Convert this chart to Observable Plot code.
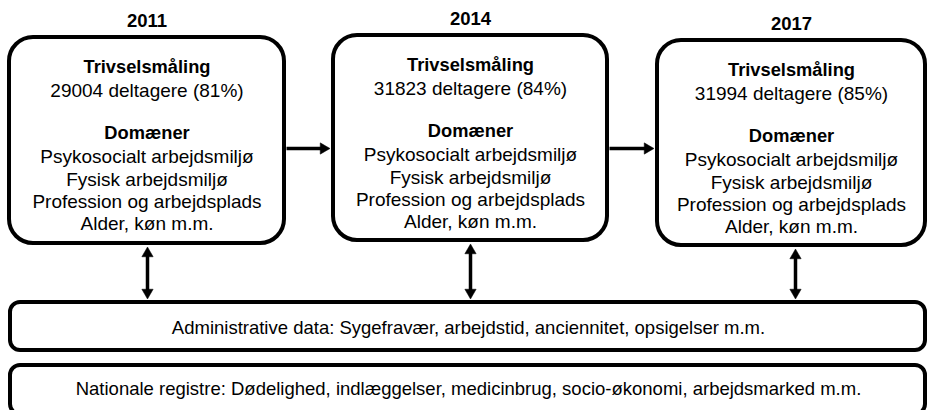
<!DOCTYPE html>
<html>
<head>
<meta charset="utf-8">
<script src="https://cdn.jsdelivr.net/npm/d3@7"></script>
<script src="https://cdn.jsdelivr.net/npm/@observablehq/plot@0.6"></script>
<style>
  html, body { margin: 0; padding: 0; background: #fff; }
  #chart svg { display: block; }
  #chart svg text { font-family: "Liberation Sans", Arimo, Arial, sans-serif; }
</style>
</head>
<body>
<div id="chart"></div>
<script>
// ---- data ----
const years = ["2011", "2014", "2017"];
const participants = [29004, 31823, 31994];
const responseRates = [81, 84, 85];
const surveyTitle = "Trivselsmåling";
const domainTitle = "Domæner";
const domains = ["Psykosocialt arbejdsmiljø", "Fysisk arbejdsmiljø", "Profession og arbejdsplads", "Alder, køn m.m."];
const registers = [
  "Administrative data: Sygefravær, arbejdstid, anciennitet, opsigelser m.m.",
  "Nationale registre: Dødelighed, indlæggelser, medicinbrug, socio-økonomi, arbejdsmarked m.m."
];

// ---- layout (pixel space) ----
const W = 927, H = 410;
const boxX1 = [9, 333, 657], boxX2 = [284, 607, 925];
const boxY1 = [37, 35, 40], boxY2 = [243, 240, 245];
const textBase = [67, 65, 70];
const lineOffsets = [0, 23, 66, 89, 112, 134, 156];
const regY1 = [302, 365], regY2 = [350, 414], regX1 = 10, regX2 = 925;
const regTextY = [328, 389];

const boxes = years.map((y, i) => ({x1: boxX1[i], x2: boxX2[i], y1: boxY1[i], y2: boxY2[i], cx: (boxX1[i] + boxX2[i]) / 2}));
const regBoxes = registers.map((t, i) => ({x1: regX1, x2: regX2, y1: regY1[i], y2: regY2[i], ty: regTextY[i], label: t}));

const yearLabels = years.map((y, i) => ({x: boxes[i].cx, y: boxY1[i] - 16, label: y}));
const boldLines = [], plainLines = [];
years.forEach((y, i) => {
  const cx = boxes[i].cx, b = textBase[i];
  boldLines.push({x: cx, y: b + lineOffsets[0], label: surveyTitle});
  plainLines.push({x: cx, y: b + lineOffsets[1], label: `${participants[i]} deltagere (${responseRates[i]}%)`});
  boldLines.push({x: cx, y: b + lineOffsets[2], label: domainTitle});
  domains.forEach((d, j) => plainLines.push({x: cx, y: b + lineOffsets[3 + j], label: d}));
});

// arrows
const head = 8; // distance tip -> triangle centre
const hArrowY = 148;
const hArrows = [0, 1].map(i => ({x1: boxX2[i] + 2, x2: boxX1[i + 1] - 2, y: hArrowY}));
const vArrowX = [147, 470, 795];
const vArrows = vArrowX.map((x, i) => ({x, y1: boxY2[i] + 2, y2: regY1[0] - 2}));

const shafts = [
  ...hArrows.map(a => ({x1: a.x1, y1: a.y, x2: a.x2 - head, y2: a.y})),
  ...vArrows.map(a => ({x1: a.x, y1: a.y1 + head, x2: a.x, y2: a.y2 - head}))
];
const heads = [
  ...hArrows.map(a => ({x: a.x2 - head, y: a.y, rot: 90})),
  ...vArrows.map(a => ({x: a.x, y: a.y1 + head, rot: 0})),
  ...vArrows.map(a => ({x: a.x, y: a.y2 - head, rot: 180}))
];

const chart = Plot.plot({
  width: W, height: H,
  margin: 0,
  x: {domain: [0, W], range: [0, W], axis: null},
  y: {domain: [0, H], range: [0, H], axis: null},
  style: {background: "white"},
  marks: [
    Plot.link(shafts, {x1: "x1", y1: "y1", x2: "x2", y2: "y2", stroke: "black", strokeWidth: 3.5}),
    Plot.dot(heads, {x: "x", y: "y", rotate: "rot", symbol: "triangle2", r: 5.4, fill: "black", stroke: "black", strokeWidth: 0.5}),
    Plot.rect(boxes, {x1: "x1", x2: "x2", y1: "y1", y2: "y2", rx: 24, fill: "white", stroke: "black", strokeWidth: 4}),
    Plot.rect(regBoxes, {x1: "x1", x2: "x2", y1: "y1", y2: "y2", rx: 10, fill: "white", stroke: "black", strokeWidth: 4}),
    Plot.text(yearLabels, {x: "x", y: "y", text: "label", fontSize: 18.5, fontWeight: "bold", fill: "black"}),
    Plot.text(boldLines, {x: "x", y: "y", text: "label", fontSize: 18.3, fontWeight: "bold", fill: "black"}),
    Plot.text(plainLines, {x: "x", y: "y", text: "label", fontSize: 19, fill: "black"}),
    Plot.text(regBoxes, {x: 468, y: "ty", text: "label", fontSize: 18.5, fill: "black"})
  ]
});
document.getElementById("chart").appendChild(chart);
</script>
</body>
</html>
